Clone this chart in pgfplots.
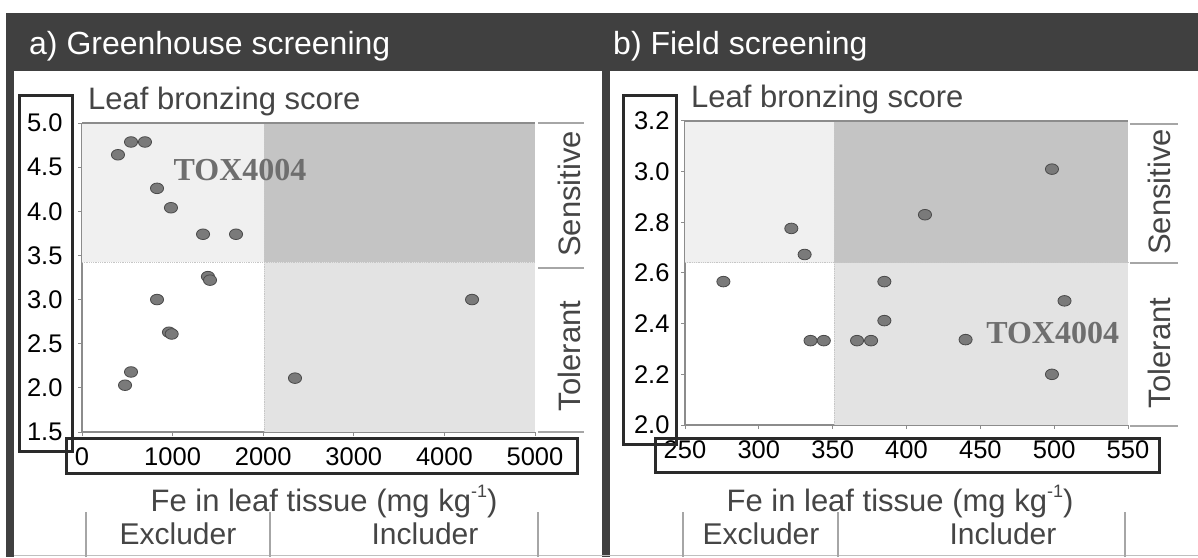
\documentclass[border=0pt]{standalone}
\usepackage{fontspec}
\setmainfont{Liberation Sans}
\newfontfamily\serifbf{Liberation Serif}
\usepackage{pgfplots}
\pgfplotsset{compat=1.18}
\definecolor{band}{HTML}{404040}
\definecolor{qA}{HTML}{F0F0F0}
\definecolor{qB}{HTML}{C4C4C4}
\definecolor{qC}{HTML}{E3E3E3}
\definecolor{txt}{HTML}{454545}
\definecolor{ptc}{HTML}{7A7A7A}
\definecolor{ptd}{HTML}{4A4A4A}
\definecolor{axg}{HTML}{8C8C8C}
\definecolor{boxc}{HTML}{2A2A2A}
\definecolor{toxc}{HTML}{6E6E6E}
\newcommand{\fs}[1]{\fontsize{#1}{#1}\selectfont}

\pgfplotsset{
  panel/.style={
    scale only axis, clip=false,
    axis x line*=bottom, axis y line*=left,
    axis line style={axg, line width=1.2pt},
    tick style={axg, line width=1pt},
    major tick length=4pt, tick align=outside,
    ticklabel style={font=\fs{25.5}, text=black},
    /pgf/number format/assume math mode=true,
    yticklabel style={/pgf/number format/fixed, /pgf/number format/fixed zerofill, /pgf/number format/precision=1},
    xticklabel style={/pgf/number format/1000 sep={}, yshift=-8pt},
  },
  pts/.style={only marks, mark=*, mark size=5.3pt,
    mark options={xscale=1.24, fill=ptc, draw=ptd, line width=0.8pt}},
}

\begin{document}
\begin{tikzpicture}[x=1pt,y=1pt]
\useasboundingbox (0,0) rectangle (1198,557);
\fill[white] (0,0) rectangle (1198,557);
\fill[band] (6,486) rectangle (1198,544);
\fill[band] (6,0) rectangle (14,544);
\fill[band] (602,0) rectangle (610,544);
\draw[gray!50, line width=1pt] (14,1.5) -- (1198,1.5);

\node[anchor=base west, inner sep=0, text=white, font=\fs{32}] at (29,502) {a) Greenhouse screening};
\node[anchor=base west, inner sep=0, text=white, font=\fs{32}] at (613,502) {b) Field screening};

% ---------------- left panel ----------------
\begin{axis}[panel, at={(82pt,125pt)}, anchor=south west,
  width=453pt, height=309pt,
  xmin=0, xmax=5000, ymin=1.5, ymax=5.0,
  xtick={0,1000,2000,3000,4000,5000},
  ytick={1.5,2.0,2.5,3.0,3.5,4.0,4.5,5.0},
  yticklabel style={xshift=-12pt}]
\addplot[fill=qA, draw=none] coordinates {(0,3.42) (2010,3.42) (2010,5) (0,5)} -- cycle;
\addplot[fill=qB, draw=none] coordinates {(2010,3.42) (5000,3.42) (5000,5) (2010,5)} -- cycle;
\addplot[fill=qC, draw=none] coordinates {(2010,1.5) (5000,1.5) (5000,3.42) (2010,3.42)} -- cycle;
\addplot[densely dotted, gray!45, line width=0.8pt] coordinates {(0,3.42) (5000,3.42)};
\addplot[densely dotted, gray!45, line width=0.8pt] coordinates {(2010,1.5) (2010,5)};
\addplot[axg, line width=1.2pt] coordinates {(0,5) (5000,5)};
\addplot[pts] coordinates {
(397,4.64) (541,4.785) (695,4.785) (828,4.26) (982,4.04)
(1336,3.74) (1700,3.74) (1390,3.26) (1413,3.22) (828,3.0)
(960,2.63) (990,2.61) (541,2.18) (475,2.03) (2351,2.11) (4305,3.0)
};
\node[font=\serifbf\bfseries\fs{32}, text=toxc] at (axis cs:1744,4.47) {TOX4004};
\end{axis}

% ---------------- right panel ----------------
\begin{axis}[panel, at={(685pt,132pt)}, anchor=south west,
  width=443pt, height=304pt,
  xmin=250, xmax=550, ymin=2.0, ymax=3.2,
  xtick={250,300,350,400,450,500,550},
  ytick={2.0,2.2,2.4,2.6,2.8,3.0,3.2},
  yticklabel style={xshift=-8pt}]
\addplot[fill=qA, draw=none] coordinates {(250,2.64) (351,2.64) (351,3.2) (250,3.2)} -- cycle;
\addplot[fill=qB, draw=none] coordinates {(351,2.64) (550,2.64) (550,3.2) (351,3.2)} -- cycle;
\addplot[fill=qC, draw=none] coordinates {(351,2.0) (550,2.0) (550,2.64) (351,2.64)} -- cycle;
\addplot[densely dotted, gray!45, line width=0.8pt] coordinates {(250,2.64) (550,2.64)};
\addplot[densely dotted, gray!45, line width=0.8pt] coordinates {(351,2.0) (351,3.2)};
\addplot[axg, line width=1.2pt] coordinates {(250,3.2) (550,3.2)};
\addplot[pts] coordinates {
(276,2.566) (322,2.776) (331,2.673) (335,2.333) (344,2.333)
(366.5,2.333) (376,2.333) (385,2.566) (385,2.412) (412.5,2.83)
(440,2.337) (498.5,3.01) (507,2.49) (498.5,2.2)
};
\node[font=\serifbf\bfseries\fs{32}, text=toxc] at (axis cs:499,2.364) {TOX4004};
\end{axis}

% axis titles
\node[anchor=base west, inner sep=0, text=txt, font=\fs{31}] at (88,447) {Leaf bronzing score};
\node[anchor=base west, inner sep=0, text=txt, font=\fs{31}] at (691,449) {Leaf bronzing score};
\node[anchor=base, inner sep=0, text=txt, font=\fs{31}] at (324,46) {Fe in leaf tissue (mg kg\raisebox{0.42em}{\fs{18}-1})};
\node[anchor=base, inner sep=0, text=txt, font=\fs{31}] at (900,46) {Fe in leaf tissue (mg kg\raisebox{0.42em}{\fs{18}-1})};

% Sensitive / Tolerant
\node[anchor=base, rotate=90, inner sep=0, text=txt, font=\fs{31}] at (580,363) {Sensitive};
\node[anchor=base, rotate=90, inner sep=0, text=txt, font=\fs{31}] at (580,201) {Tolerant};
\node[anchor=base, rotate=90, inner sep=0, text=txt, font=\fs{31}] at (1170,365) {Sensitive};
\node[anchor=base, rotate=90, inner sep=0, text=txt, font=\fs{31}] at (1170,204) {Tolerant};
\draw[gray!70, line width=1.5pt] (538,434) -- (584,434) (538,289) -- (584,289) (538,125) -- (584,125);
\draw[gray!70, line width=1.5pt] (1130,433) -- (1178,433) (1130,294) -- (1178,294) (1130,131) -- (1178,131);

% Excluder / Includer
\draw[gray!70, line width=1.2pt] (86,0) -- (86,45) (270,0) -- (270,45) (538,0) -- (538,45);
\draw[gray!70, line width=1.2pt] (683,0) -- (683,45) (838,0) -- (838,45) (1125,0) -- (1125,45);
\node[anchor=base, inner sep=0, text=txt, font=\fs{30}] at (178,13) {Excluder};
\node[anchor=base, inner sep=0, text=txt, font=\fs{30}] at (425,13) {Includer};
\node[anchor=base, inner sep=0, text=txt, font=\fs{30}] at (761,13) {Excluder};
\node[anchor=base, inner sep=0, text=txt, font=\fs{30}] at (1003,13) {Includer};

% tick label frames
\draw[boxc, line width=3pt] (19,106) rectangle (72,461);
\draw[boxc, line width=3pt] (66,84) rectangle (577,119);
\draw[boxc, line width=3pt] (623,113) rectangle (676,461);
\draw[boxc, line width=3pt] (655,85) rectangle (1159,119);
\end{tikzpicture}
\end{document}
